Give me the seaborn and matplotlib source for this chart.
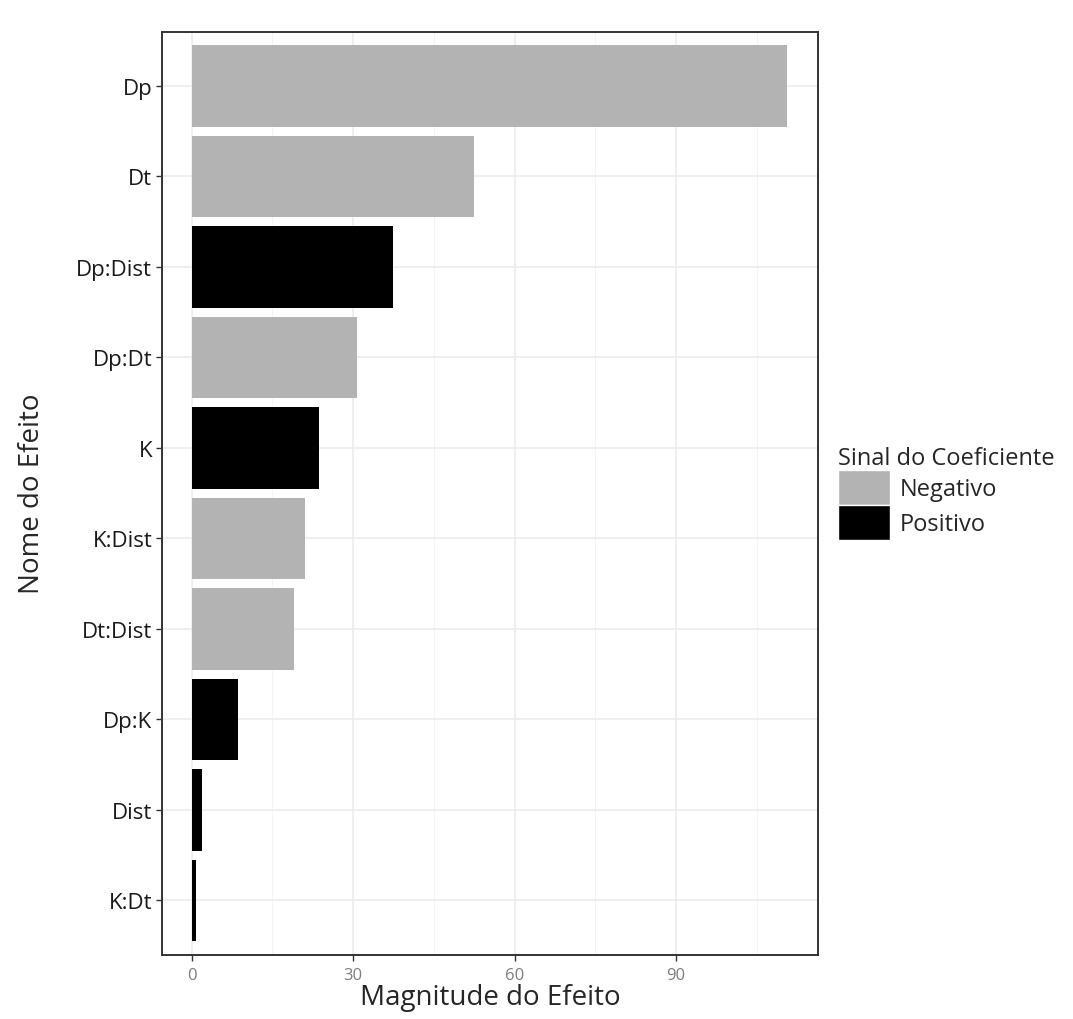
import numpy as np
import pandas as pd
import seaborn as sns
import matplotlib.pyplot as plt
from matplotlib.patches import Patch
from matplotlib.ticker import MultipleLocator

efeitos = ["Dp", "Dt", "Dp:Dist", "Dp:Dt", "K", "K:Dist", "Dt:Dist", "Dp:K", "Dist", "K:Dt"]
magnitude = [110.7, 52.4, 37.4, 30.7, 23.6, 21.1, 19.1, 8.7, 1.9, 0.9]
sinal = ["Negativo", "Negativo", "Positivo", "Negativo", "Positivo",
         "Negativo", "Negativo", "Positivo", "Positivo", "Positivo"]

df = pd.DataFrame({"Efeito": efeitos, "Magnitude": magnitude, "Sinal": sinal})
cores = {"Negativo": "#b3b3b3", "Positivo": "#000000"}

sns.set_theme(style="white")
plt.rcParams['font.family'] = ['Open Sans', 'DejaVu Sans']

fig = plt.figure(figsize=(10.73, 10.2), dpi=100)
ax = fig.add_axes([0.151, 0.063, 0.611, 0.905])

sns.barplot(data=df, x="Magnitude", y="Efeito", hue="Sinal", palette=cores,
            order=efeitos, hue_order=["Negativo", "Positivo"], dodge=False,
            width=0.9, saturation=1, legend=False, ax=ax, zorder=3,
            linewidth=0)

ax.set_xlim(-5.5, 116.3)
ax.set_ylim(len(efeitos) - 0.4, -0.6)
ax.xaxis.set_major_locator(MultipleLocator(30))
ax.xaxis.set_minor_locator(MultipleLocator(15))
ax.grid(True, which="major", color="#ebebeb", linewidth=1.1, zorder=0)
ax.grid(True, which="minor", axis="x", color="#f2f2f2", linewidth=0.6, zorder=0)
ax.set_axisbelow(True)
for s in ax.spines.values():
    s.set_color("#333333")
    s.set_linewidth(1.4)

ax.tick_params(axis="both", which="major", length=4, color="#333333", width=1,
               bottom=True, left=True)
ax.tick_params(axis="x", which="minor", length=0)
ax.tick_params(axis="y", labelsize=16, labelcolor="#1a1a1a", pad=3)
ax.tick_params(axis="x", labelsize=12, labelcolor="#7f7f7f", pad=5)
ax.set_xlabel("Magnitude do Efeito", fontsize=20, labelpad=0)
ax.set_ylabel("Nome do Efeito", fontsize=20, labelpad=22)

handles = [Patch(facecolor=cores[k], label=k) for k in ["Negativo", "Positivo"]]
fig.legend(handles=handles, title="Sinal do Coeficiente", loc="upper left",
           bbox_to_anchor=(0.766, 0.578), frameon=False, fontsize=17,
           title_fontsize=17, handlelength=2.2, handleheight=1.9,
           handletextpad=0.4, labelspacing=0.0, alignment="left",
           borderpad=0.2)

fig.savefig("out.png", dpi=100)
